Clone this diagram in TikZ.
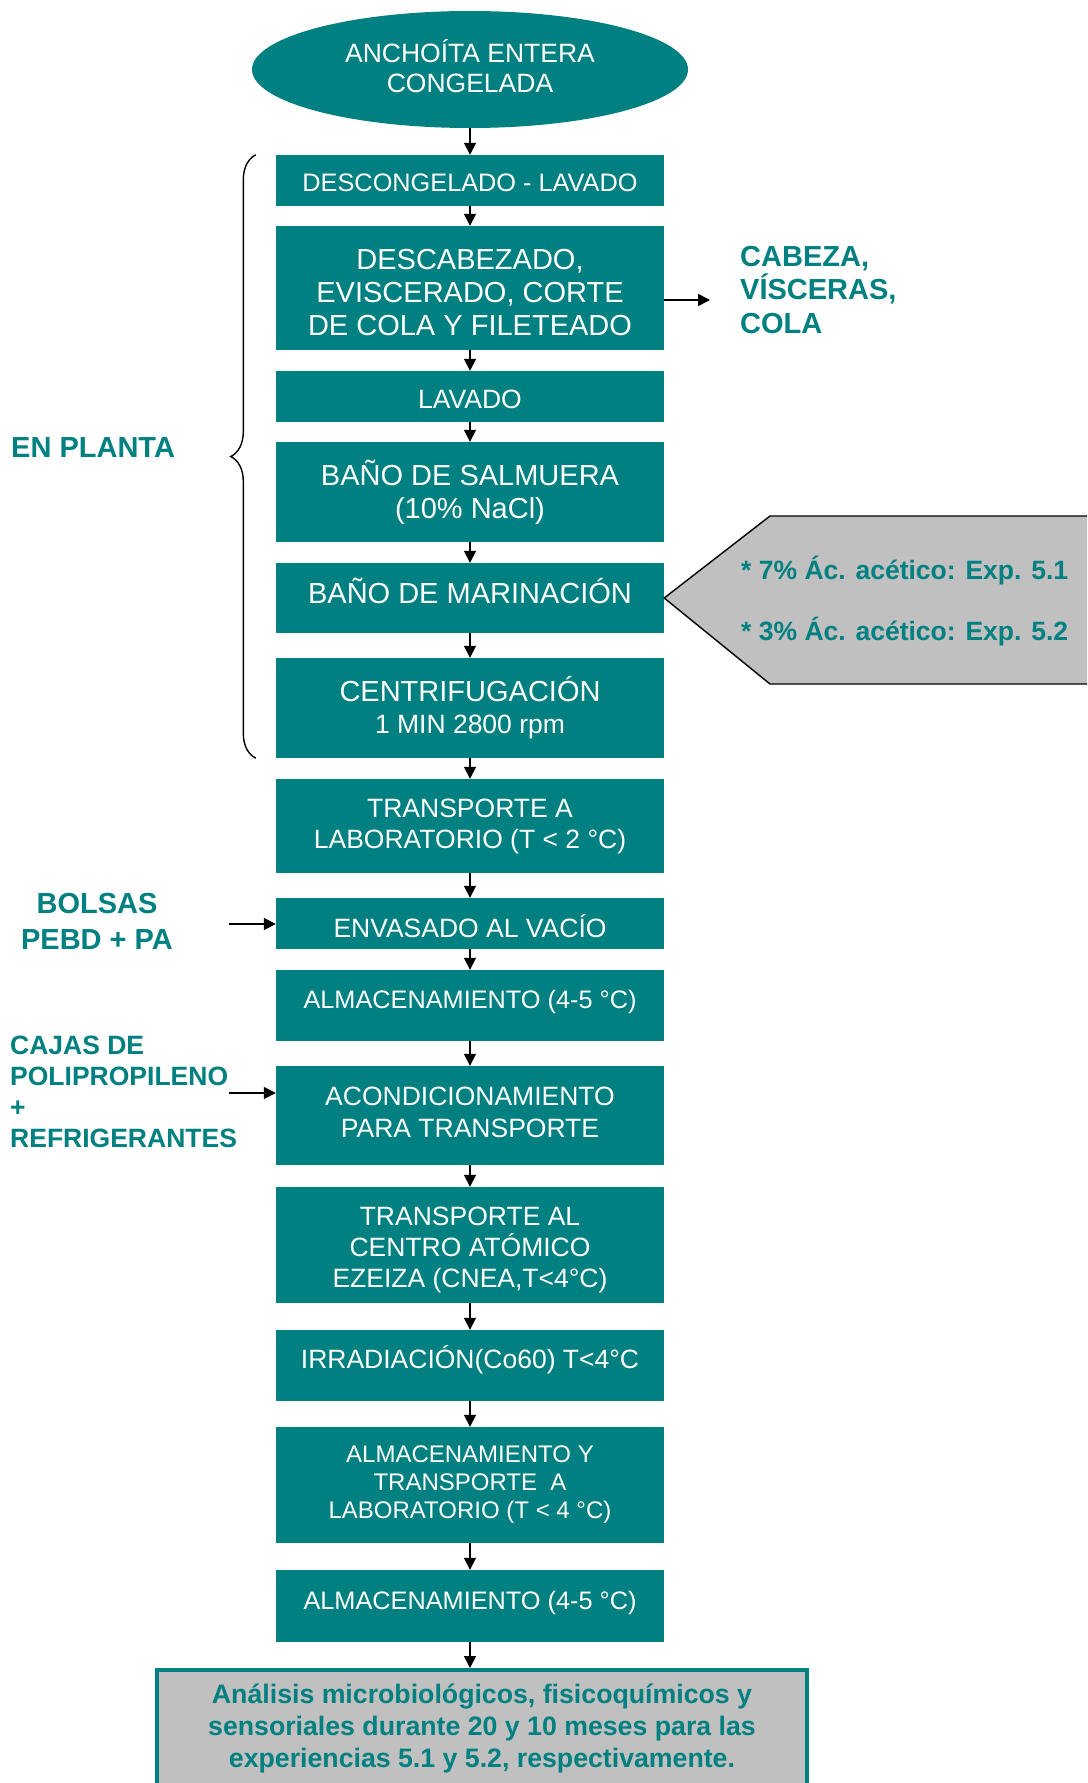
\documentclass[tikz,border=0pt]{standalone}
\usepackage{fontspec}
\setmainfont{Liberation Sans}
\usetikzlibrary{arrows.meta,shapes.geometric,decorations.pathreplacing}
\definecolor{verdeazul}{RGB}{0,128,128}
\definecolor{gris}{RGB}{192,192,192}
\newcommand{\tam}[2]{\fontsize{#1}{#2}\selectfont}
\newcommand{\alto}[1]{\rule{0pt}{#1}}
\newcommand{\hondo}[1]{\rule[-#1]{0pt}{#1}}

\begin{document}
\begin{tikzpicture}[x=1pt,y=-1pt,
    paso/.style={rectangle,fill=verdeazul,text=white,minimum width=388pt,inner sep=0pt,align=center,font=\tam{26.5}{31}},
    alt/.style={text height=#1,text depth=0pt},
    inicio/.style={ellipse,fill=verdeazul,text=white,minimum width=436pt,minimum height=117pt,inner sep=0pt,align=center,font=\tam{26.5}{30}},
    nota/.style={text=verdeazul,font=\bfseries\tam{29}{33.5},inner sep=0pt},
    flecha/.style={line width=1.6pt,-{Triangle[length=12pt,width=12pt]}},
    llave/.style={decorate,decoration={brace,amplitude=25pt},line width=1.4pt}]
            \clip (0,0) rectangle (1087,1783);

            % columna central
            \node[inicio] (anch) at (470,69.5) {ANCHOÍTA ENTERA\\CONGELADA\hondo{7pt}};
            \node[paso,minimum height=51pt,font=\tam{25.3}{30},alt=21pt] (desc) at (470,180.5) {DESCONGELADO - LAVADO};
            \node[paso,minimum height=124pt,font=\tam{29}{33}] (descab) at (470,288) {\alto{28.8pt}DESCABEZADO,\\EVISCERADO, CORTE\\DE COLA Y FILETEADO};
            \node[paso,minimum height=51pt,alt=24pt] (lav) at (470,396.5) {LAVADO};
            \node[paso,minimum height=100pt,font=\tam{29}{33}] (sal) at (470,492) {BAÑO DE SALMUERA\\(10\% NaCl)};
            \node[paso,minimum height=70pt,font=\tam{29}{33},alt=11pt] (mar) at (470,598) {BAÑO DE MARINACIÓN};
            \node[paso,minimum height=100pt,font=\tam{29}{32}] (cen) at (470,708) {CENTRIFUGACIÓN\\{\tam{26.5}{32}1 MIN 2800 rpm}};
            \node[paso,minimum height=94pt] (tra) at (470,826) {TRANSPORTE A\\LABORATORIO (T < 2 °C)};
            \node[paso,minimum height=51pt,alt=27pt] (env) at (470,923.5) {ENVASADO AL VACÍO};
            \node[paso,minimum height=71pt,font=\tam{25.3}{30},alt=5pt] (alma) at (470,1005.5) {ALMACENAMIENTO (4-5 °C)};
            \node[paso,minimum height=99pt,font=\tam{26.5}{32}] (acon) at (470,1115.5) {ACONDICIONAMIENTO\\PARA TRANSPORTE\hondo{6.8pt}};
            \node[paso,minimum height=116pt] (cnea) at (470,1245) {\alto{28pt}TRANSPORTE AL\\CENTRO ATÓMICO\\EZEIZA (CNEA,T<4°C)};
            \node[paso,minimum height=71pt,alt=6pt] (irr) at (470,1365.5) {IRRADIACIÓN(Co60) T<4°C};
            \node[paso,minimum height=116pt,font=\tam{24}{28}] (almt) at (470,1485) {ALMACENAMIENTO Y\\TRANSPORTE~ A\\LABORATORIO (T < 4 °C)};
            \node[paso,minimum height=72pt,font=\tam{25.3}{30},alt=6pt] (almb) at (470,1606) {ALMACENAMIENTO (4-5 °C)};
            \node[rectangle,fill=gris,draw=verdeazul,line width=3.5pt,minimum width=650pt,minimum height=118pt,anchor=north,text=verdeazul,font=\bfseries\tam{26.7}{32},align=center] (anal) at (482,1668) {Análisis microbiológicos, fisicoquímicos y\\sensoriales durante 20 y 10 meses para las\\experiencias 5.1 y 5.2, respectivamente.};

            \foreach \a/\b in {anch/desc,desc/descab,descab/lav,lav/sal,sal/mar,mar/cen,cen/tra,tra/env,env/alma,alma/acon,acon/cnea,cnea/irr,irr/almt,almt/almb,almb/anal}
                \draw[flecha] (\a.south) -- (\a.south |- \b.north);

            % salidas y entradas laterales
            \coordinate (cabf) at (710,300);
            \draw[flecha] (descab.east |- cabf) -- (cabf);
            \node[nota,anchor=west,align=left] (cab) at (740,290) {CABEZA,\\VÍSCERAS,\\COLA};

            \node[nota,align=center,font=\bfseries\tam{29}{36}] (bolsas) at (97,921) {BOLSAS\\PEBD + PA};
            \coordinate (bolf) at (229,924);
            \draw[flecha] (bolf) -- (env.west |- bolf);

            \node[nota,anchor=west,align=left,font=\bfseries\tam{26.5}{31}] (cajas) at (10,1091.5) {CAJAS DE\\POLIPROPILENO\\+\\REFRIGERANTES};
            \coordinate (cajf) at (229,1093);
            \draw[flecha] (cajf) -- (acon.west |- cajf);

            % marinado
            \draw[fill=gris,line width=1.4pt] (mar.east) -- (770,516) -- (1100,516) -- (1100,684) -- (770,684) -- cycle;
            \node[nota,anchor=base west,font=\bfseries\tam{26.5}{30}] (exp1) at (741,579.5) {* 7\% Ác. acético: Exp. 5.1};
            \node[nota,anchor=base west,font=\bfseries\tam{26.5}{30}] (exp2) at (741,640.5) {* 3\% Ác. acético: Exp. 5.2};

            % en planta
            \draw[llave] ([xshift=-20pt]cen.south west) -- ([xshift=-20pt]desc.north west);
            \node[nota,anchor=west] (planta) at (11,448) {EN PLANTA};
\end{tikzpicture}
\end{document}
